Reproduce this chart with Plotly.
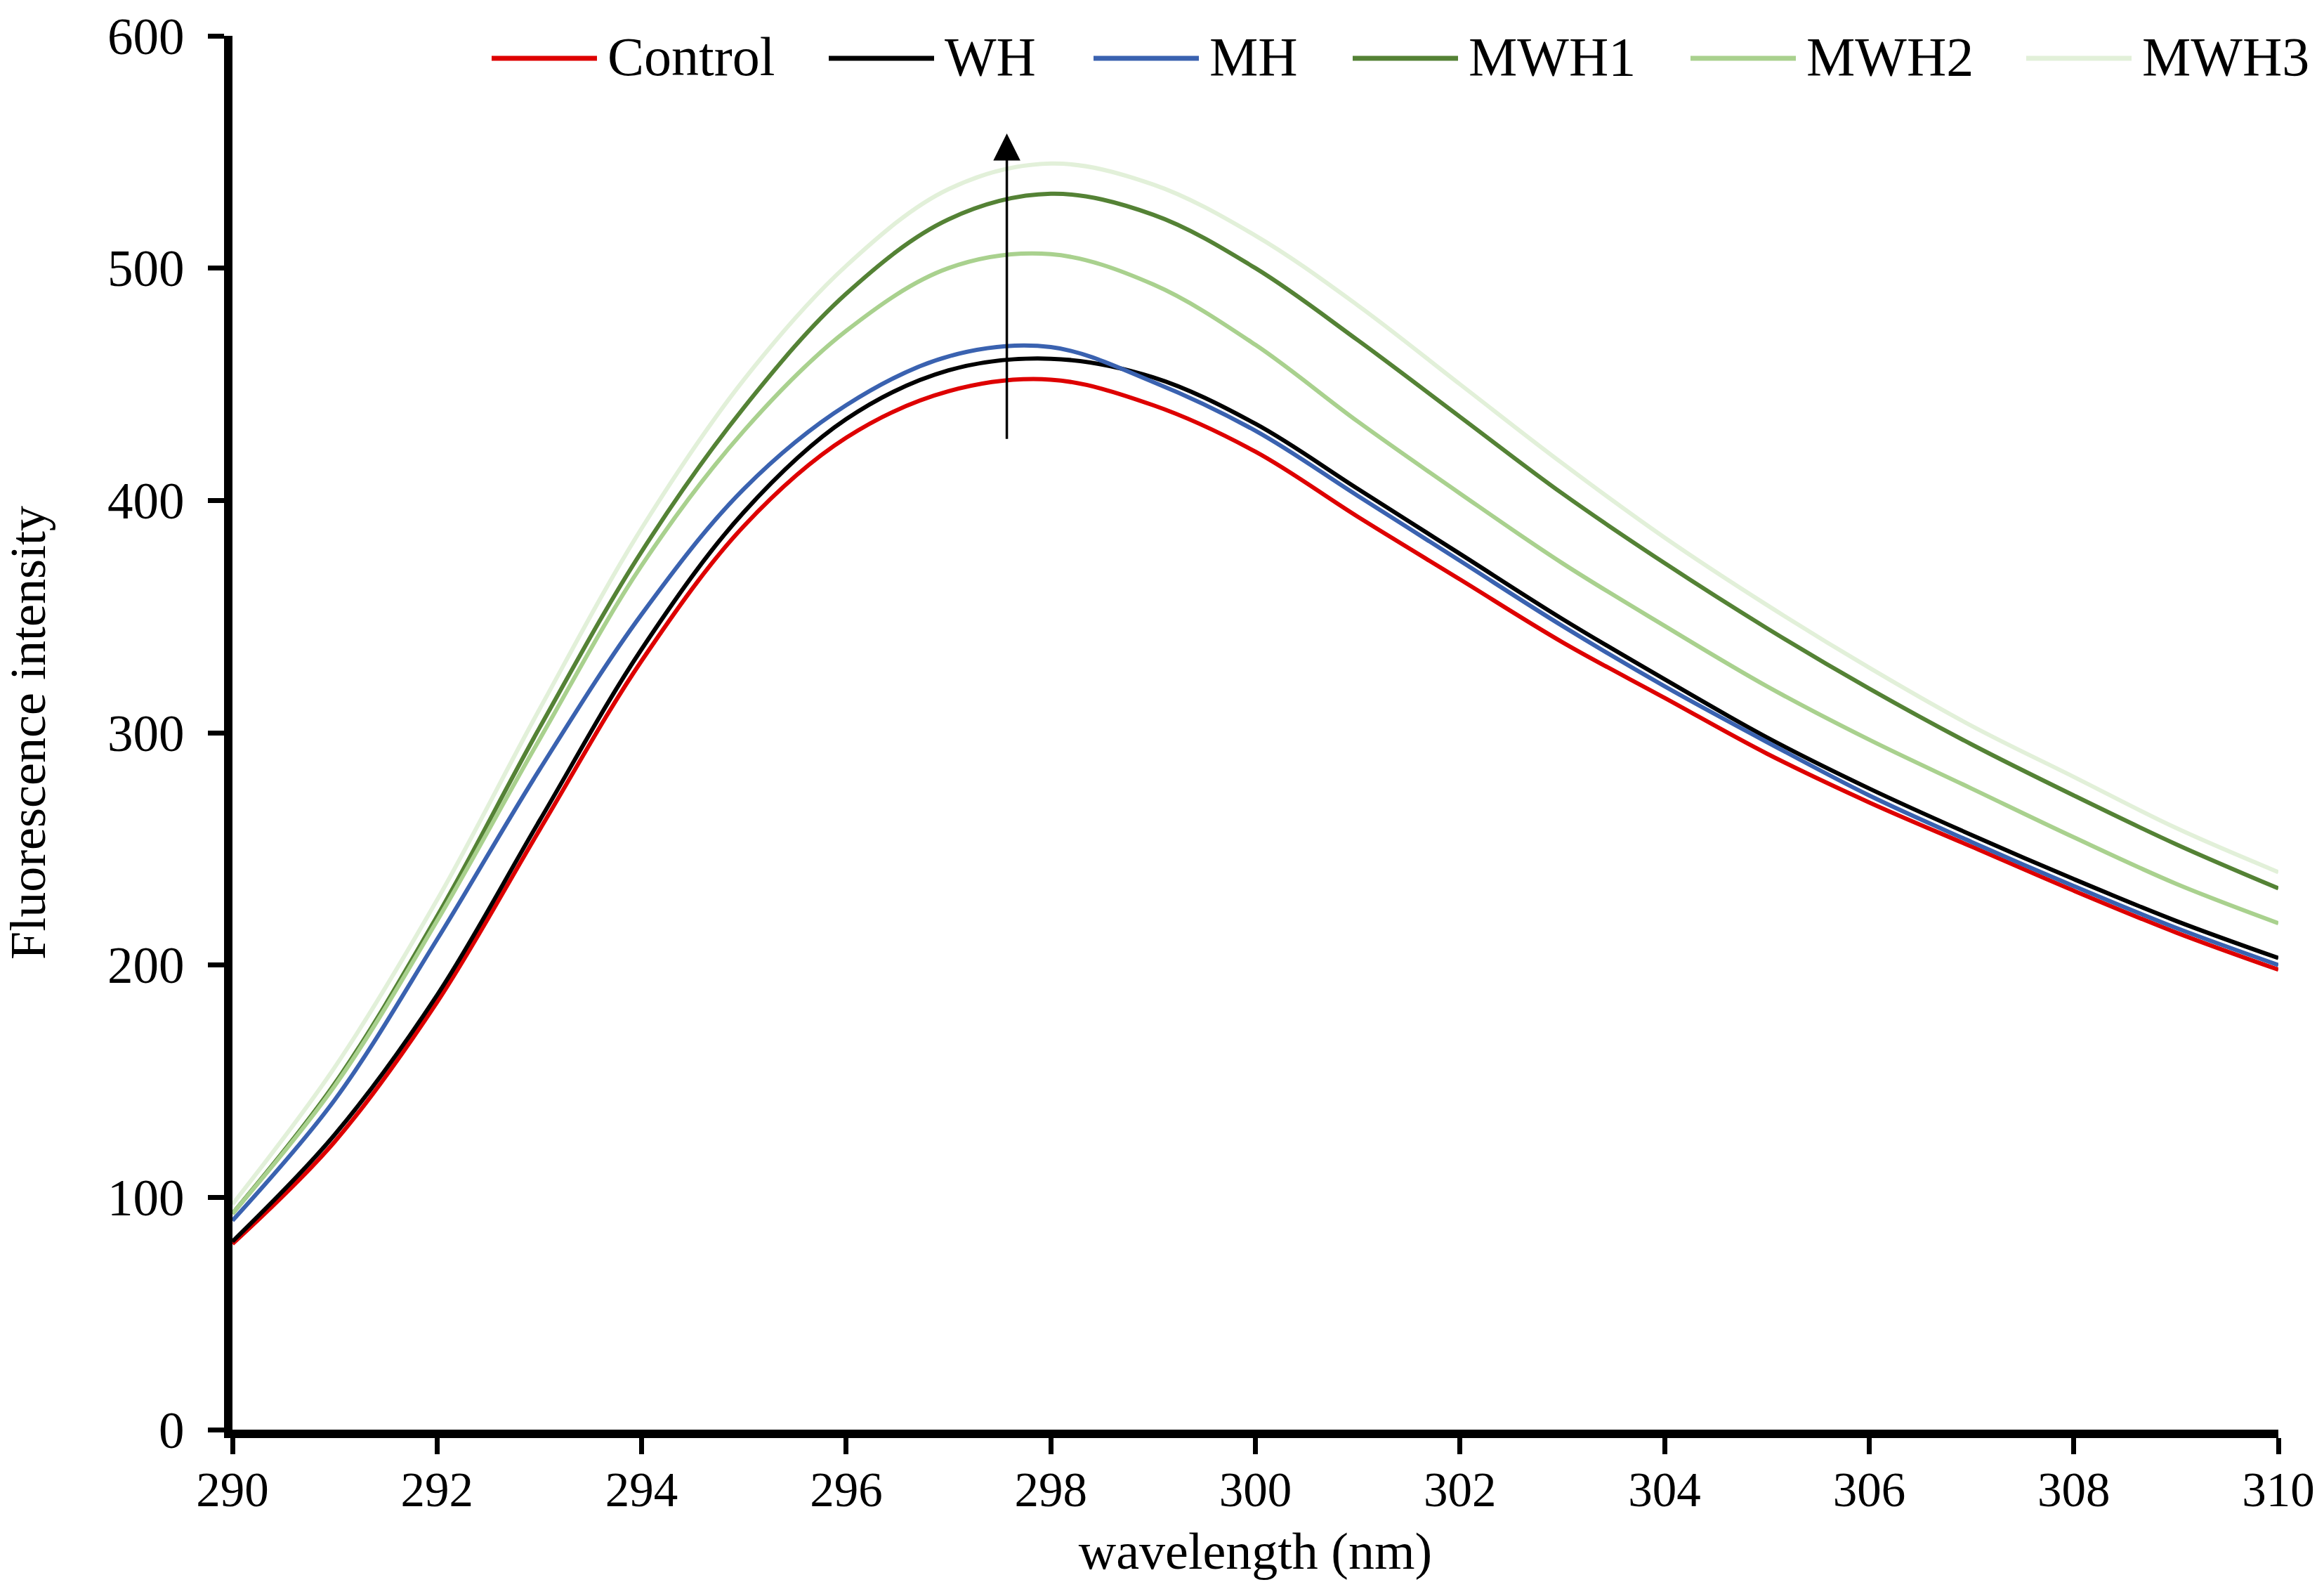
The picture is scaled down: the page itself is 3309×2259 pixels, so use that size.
import plotly.graph_objects as go

# ---------------- data ----------------
wavelength = list(range(290, 311))

control = [80, 124, 184, 258, 331, 389, 427, 447, 452, 441, 421, 393, 366, 339, 315, 291, 270, 251, 232, 214, 198]
wh      = [81, 127, 187, 262, 336, 395, 435, 456, 461, 453, 433, 405, 377, 349, 323, 298, 276, 256, 237, 219, 203]
mh      = [90, 142, 211, 284, 351, 405, 441, 462, 466, 451, 430, 402, 374, 346, 320, 296, 273, 253, 234, 216, 200]
mwh1    = [93, 149, 221, 302, 378, 440, 489, 521, 532, 523, 500, 469, 436, 403, 373, 345, 319, 295, 273, 252, 233]
mwh2    = [93, 148, 219, 297, 372, 430, 473, 500, 506, 493, 467, 434, 403, 373, 346, 320, 297, 276, 255, 235, 218]
mwh3    = [97, 156, 228, 310, 388, 452, 501, 534, 545, 536, 514, 484, 450, 416, 384, 355, 328, 303, 281, 259, 240]

series_names = ["Control", "WH", "MH", "MWH1", "MWH2", "MWH3"]
series_values = [control, wh, mh, mwh1, mwh2, mwh3]

x_ticks = list(range(290, 311, 2))
y_ticks = list(range(0, 601, 100))

arrow_x = 297.57
arrow_from = 426
arrow_to = 558

# ---------------- styles / layout ----------------
colors = ["#DE0000", "#000000", "#3A62B0", "#548235", "#A9D18E", "#E2F0D9"]
FONT = "Liberation Serif"

W, H = 3309, 2259
PX_L, PX_R, PX_T, PX_B = 331, 3244, 45, 2035


def xp(px):
    return (px - PX_L) / (PX_R - PX_L)


def yp(py):
    return (PX_B - py) / (PX_B - PX_T)


fig = go.Figure()
for name, vals, col in zip(series_names, series_values, colors):
    fig.add_trace(go.Scatter(
        x=wavelength, y=vals, name=name, mode="lines",
        line=dict(color=col, width=6, shape="spline", smoothing=1.0),
        showlegend=False,
    ))

# custom legend (long line samples like the reference)
legend_starts = [700, 1180, 1557, 1926, 2407, 2885]
legend_line_len = 150
legend_gap = 13
legend_y = 77
shapes = []
annotations = []
for name, col, sx in zip(series_names, colors, legend_starts):
    shapes.append(dict(type="line", xref="paper", yref="paper",
                       x0=xp(sx), x1=xp(sx + legend_line_len),
                       y0=yp(legend_y), y1=yp(legend_y),
                       line=dict(color=col, width=7)))
    annotations.append(dict(xref="paper", yref="paper",
                            x=xp(sx + legend_line_len + legend_gap), y=yp(legend_y - 2),
                            text=name, showarrow=False, xanchor="left", yanchor="middle",
                            font=dict(family=FONT, size=78, color="black")))

annotations.append(dict(x=arrow_x, y=arrow_to, ax=arrow_x, ay=arrow_from,
                        xref="x", yref="y", axref="x", ayref="y",
                        showarrow=True, arrowhead=2, arrowsize=2.2, arrowwidth=3.5,
                        arrowcolor="black", text=""))

fig.update_layout(
    width=W, height=H,
    margin=dict(l=PX_L, r=W - PX_R, t=PX_T, b=H - PX_B),
    paper_bgcolor="white", plot_bgcolor="white",
    font=dict(family=FONT, color="black"),
    shapes=shapes, annotations=annotations,
    showlegend=False,
)
fig.update_xaxes(
    range=[290, 310], tickvals=x_ticks, ticktext=[str(t) for t in x_ticks],
    showline=True, linewidth=12, linecolor="black",
    ticks="outside", ticklen=23, tickwidth=7, tickcolor="black",
    ticklabelstandoff=-9,
    tickfont=dict(family=FONT, size=69, color="black"),
    title=dict(text="wavelength (nm)", font=dict(family=FONT, size=74, color="black"), standoff=28),
    showgrid=False, zeroline=False,
)
fig.update_yaxes(
    range=[0, 600], tickvals=y_ticks, ticktext=[str(t) for t in y_ticks],
    showline=True, linewidth=12, linecolor="black",
    ticks="outside", ticklen=23, tickwidth=7, tickcolor="black",
    ticklabelstandoff=19,
    tickfont=dict(family=FONT, size=73, color="black"),
    title=dict(text="Fluorescence intensity", font=dict(family=FONT, size=72, color="black"), standoff=83),
    showgrid=False, zeroline=False,
)

fig.write_html(
    "out.html",
    config={"displayModeBar": False},
    post_script="document.body.style.margin='0';document.body.style.overflow='hidden';",
)
